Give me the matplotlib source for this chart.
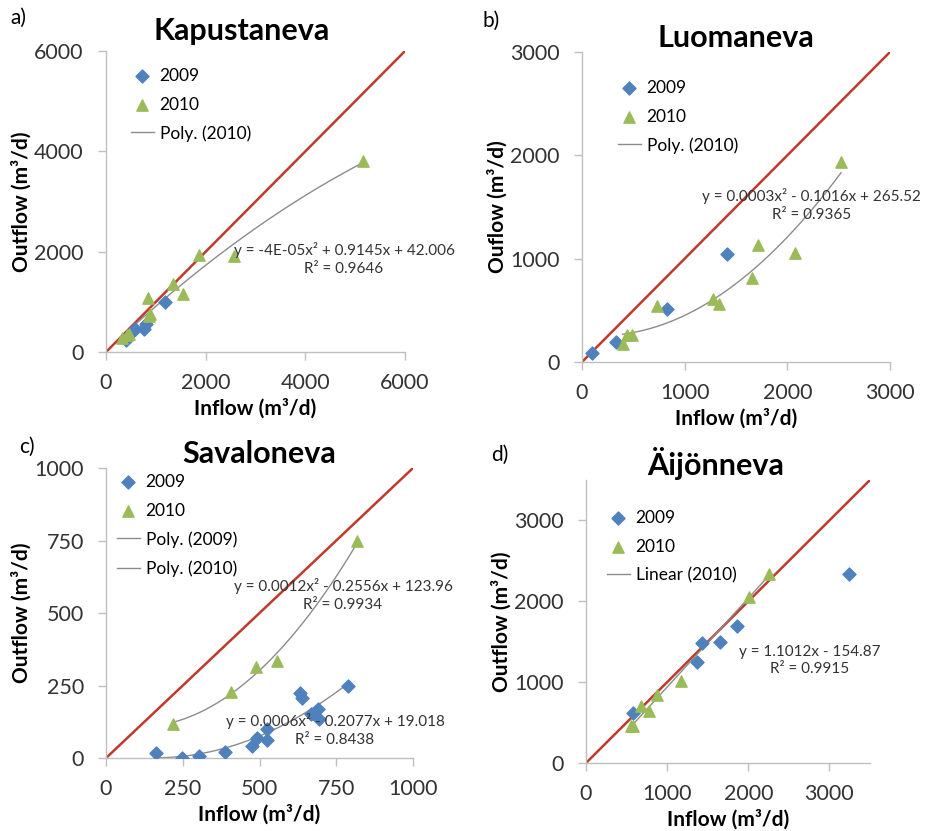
import numpy as np
import matplotlib
matplotlib.use("Agg")
import matplotlib.pyplot as plt

plt.rcParams['font.family'] = ['Lato', 'DejaVu Sans']

######################################################################
# Data (inflow, outflow in m3/d)

# a) Kapustaneva
kap_in_2009 = [402, 536, 583, 764, 804, 1179]
kap_out_2009 = [246, 412, 465, 465, 565, 997]
kap_in_2010 = [315, 415, 469, 851, 864, 884, 1353, 1554, 1869, 2559, 5164]
kap_out_2010 = [286, 332, 352, 1076, 711, 751, 1362, 1163, 1927, 1907, 3807]

# b) Luomaneva
luo_in_2009 = [94, 331, 825, 1409]
luo_out_2009 = [87, 194, 516, 1048]
luo_in_2010 = [396, 435, 484, 734, 1273, 1331, 1656, 1711, 2075, 2523]
luo_out_2010 = [177, 258, 265, 539, 613, 558, 816, 1129, 1058, 1932]

# c) Savaloneva
sav_in_2009 = [163, 249, 302, 388, 477, 492, 525, 525, 633, 638, 667, 691, 694, 787]
sav_out_2009 = [17, 0, 8, 21, 40, 70, 63, 101, 225, 207, 153, 170, 133, 248]
sav_in_2010 = [217, 406, 489, 557, 819]
sav_out_2010 = [118, 228, 314, 333, 747]

# d) Aijonneva
aij_in_2009 = [574, 1426, 1373, 1648, 1861, 3246]
aij_out_2009 = [617, 1480, 1254, 1492, 1697, 2335]
aij_in_2010 = [561, 582, 684, 779, 881, 1168, 2004, 2254]
aij_out_2010 = [452, 464, 703, 649, 843, 1011, 2059, 2335]

BLUE = "#4F81BD"
GREEN = "#9BBB59"
RED = "#C0392B"
GRAY = "#8C8C8C"
AXC = "#BFBFBF"


def trend(ax, xs, ys, deg, label):
    # least-squares trend line over the data range (as Excel does)
    coef = np.polyfit(xs, ys, deg)
    xx = np.linspace(min(xs), max(xs), 200)
    ax.plot(xx, np.polyval(coef, xx), color=GRAY, lw=1.0, label=label, zorder=2)


def panel(ax, tag, title, title_x, title_pad, ylab, lim, ticks, d09, d10, fits, eqs, leg_xy):
    fig = ax.figure
    ax.plot([0, lim], [0, lim], color=RED, lw=1.8, zorder=1)
    ax.scatter(d09[0], d09[1], marker="D", s=44, color=BLUE, label="2009", zorder=3)
    ax.scatter(d10[0], d10[1], marker="^", s=66, color=GREEN, label="2010", zorder=3)
    for data, deg, lab in fits:
        trend(ax, data[0], data[1], deg, lab)
    for x, y, txt in eqs:
        ax.text(x, y, txt, ha="center", va="center", multialignment="center",
                fontsize=11, color="#333333", linespacing=1.3, zorder=4)

    ax.set_xlim(0, lim)
    ax.set_ylim(0, lim)
    ax.set_xticks(ticks)
    ax.set_yticks(ticks)
    ax.set_title(title, fontsize=22, fontweight="bold", pad=title_pad, x=title_x)
    ax.set_xlabel("Inflow (m³/d)", fontsize=15, fontweight="bold", labelpad=4)
    ax.set_ylabel(ylab, fontsize=15, fontweight="bold", labelpad=2)
    for s in ["top", "right"]:
        ax.spines[s].set_visible(False)
    for s in ["left", "bottom"]:
        ax.spines[s].set_color(AXC)
        ax.spines[s].set_linewidth(1.0)
    ax.tick_params(labelsize=15.5, colors="#333333", color=AXC, length=6, width=1)
    ax.tick_params(axis="y", pad=10)
    ax.tick_params(axis="x", pad=9)

    # legend order: 2009, 2010, trend lines
    h, l = ax.get_legend_handles_labels()
    order = [l.index("2009"), l.index("2010")] + [i for i, s in enumerate(l) if s.startswith(("Poly", "Linear"))]
    ax.legend([h[i] for i in order], [l[i] for i in order], loc="upper left",
              bbox_to_anchor=(leg_xy[0] / 926, 1 - leg_xy[1] / 831), bbox_transform=fig.transFigure,
              frameon=False, fontsize=12.5, handlelength=1.3, handletextpad=0.35,
              labelspacing=0.72, borderpad=0, borderaxespad=0, scatterpoints=1)

    fig.text(tag[1] / 926, 1 - tag[2] / 831, tag[0], fontsize=15, ha="center", va="center")


fig = plt.figure(figsize=(9.26, 8.31), dpi=100)
ax_a = fig.add_axes([0.1145, 0.5764, 0.3229, 0.3622])
ax_b = fig.add_axes([0.6285, 0.5644, 0.3326, 0.3730])
ax_c = fig.add_axes([0.1145, 0.0878, 0.3315, 0.3490])
ax_d = fig.add_axes([0.6328, 0.0818, 0.3067, 0.3406])

panel(ax_a, ("a)", 18, 18), "Kapustaneva", 0.455, 8, "Outflow (m³/d)", 6000, [0, 2000, 4000, 6000],
      (kap_in_2009, kap_out_2009), (kap_in_2010, kap_out_2010),
      [((kap_in_2010, kap_out_2010), 2, "Poly. (2010)")],
      [(4776, 1854, "y = -4E-05x² + 0.9145x + 42.006\nR² = 0.9646")],
      (131, 68))

panel(ax_b, ("b)", 491, 21), "Luomaneva", 0.5, 3, "Ouflow (m³/d)", 3000, [0, 1000, 2000, 3000],
      (luo_in_2009, luo_out_2009), (luo_in_2010, luo_out_2010),
      [((luo_in_2010, luo_out_2010), 2, "Poly. (2010)")],
      [(2235, 1519, "y = 0.0003x² - 0.1016x + 265.52\nR² = 0.9365")],
      (618, 80))

panel(ax_c, ("c)", 27, 447), "Savaloneva", 0.5, -2, "Outflow (m³/d)", 1000, [0, 250, 500, 750, 1000],
      (sav_in_2009, sav_out_2009), (sav_in_2010, sav_out_2010),
      [((sav_in_2009, sav_out_2009), 2, "Poly. (2009)"),
       ((sav_in_2010, sav_out_2010), 2, "Poly. (2010)")],
      [(772, 562, "y = 0.0012x² - 0.2556x + 123.96\nR² = 0.9934"),
       (746, 97, "y = 0.0006x² - 0.2077x + 19.018\nR² = 0.8438")],
      (117, 474))

panel(ax_d, ("d)", 500, 455), "Äijönneva", 0.455, -2, "Outflow (m³/d)", 3500, [0, 1000, 2000, 3000],
      (aij_in_2009, aij_out_2009), (aij_in_2010, aij_out_2010),
      [((aij_in_2010, aij_out_2010), 1, "Linear (2010)")],
      [(2755, 1267, "y = 1.1012x - 154.87\nR² = 0.9915")],
      (607, 510))

fig.savefig("out.png", dpi=100)
